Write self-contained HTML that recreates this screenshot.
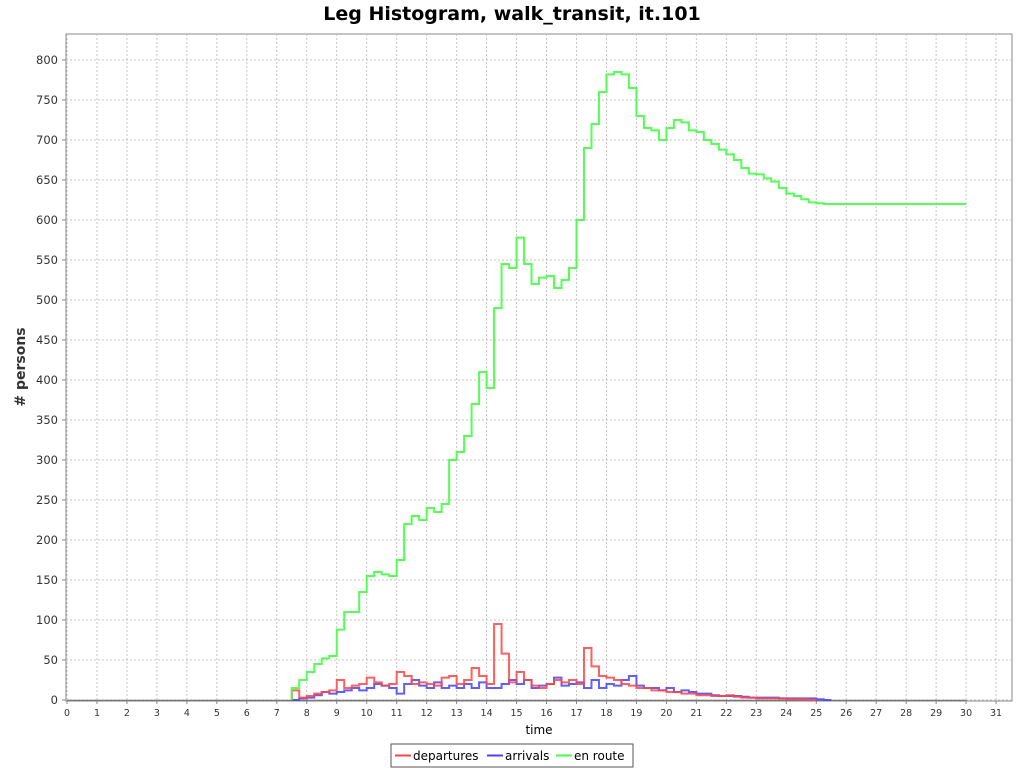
<!DOCTYPE html>
<html><head><meta charset="utf-8"><style>
html,body{margin:0;padding:0;background:#fff;}
svg{display:block;font-family:"DejaVu Sans","Liberation Sans",sans-serif;}
</style></head><body>
<svg id="chart" width="1024" height="768">
<text x="512" y="20" text-anchor="middle" font-size="19" font-weight="bold">Leg Histogram, walk_transit, it.101</text>
<rect x="66" y="34" width="946" height="667" fill="#fff" stroke="#888"/>
<g id="grid"></g>
<g id="xaxis"></g>
<g id="yaxis"></g>
<g id="series"></g>
<text x="539" y="734" text-anchor="middle" font-size="12">time</text>
<text transform="translate(25,367) rotate(-90)" text-anchor="middle" font-size="14" font-weight="bold" fill="#333"># persons</text>
<g>
<rect x="391" y="744" width="242" height="23" fill="#fff" stroke="#555"/>
<g><line x1="395" y1="755.5" x2="411" y2="755.5" stroke="#ff4444" stroke-width="2"/><text x="413" y="760" font-size="12">departures</text></g>
<g><line x1="487" y1="755.5" x2="503" y2="755.5" stroke="#4444ff" stroke-width="2"/><text x="505" y="760" font-size="12">arrivals</text></g>
<g><line x1="556" y1="755.5" x2="572" y2="755.5" stroke="#44ff44" stroke-width="2"/><text x="574" y="760" font-size="12">en route</text></g>
</g>
</svg>
<script>
const binStart = 7.5;
const binWidth = 0.25;
const enRoute = [15,25,35,45,52,55,88,110,110,135,155,160,157,155,175,220,230,225,240,235,245,300,310,330,370,410,390,490,545,540,578,545,520,528,530,515,525,540,600,690,720,760,782,785,782,765,730,715,712,700,715,725,722,712,710,700,695,688,682,675,665,658,657,652,648,640,633,630,626,622,621,620];
const departures = [12,3,5,8,10,12,25,15,18,20,28,22,18,20,35,30,20,22,20,18,28,30,20,25,40,30,20,95,58,22,35,25,18,15,20,25,22,25,20,65,42,30,28,25,20,18,15,15,12,12,10,10,8,8,6,6,5,5,6,4,3,3,2,2,2,2,1,1,1,0];
const arrivals = [0,2,3,6,10,8,10,12,15,12,15,20,18,15,8,20,25,18,15,22,15,18,15,20,15,22,15,15,20,25,20,25,15,18,20,28,18,20,22,15,25,15,20,18,25,30,18,15,15,12,15,10,12,10,8,8,6,5,5,5,4,3,3,3,3,2,2,2,2,2,1,0];
const xTicks = [0,1,2,3,4,5,6,7,8,9,10,11,12,13,14,15,16,17,18,19,20,21,22,23,24,25,26,27,28,29,30,31];
const yTicks = [0,50,100,150,200,250,300,350,400,450,500,550,600,650,700,750,800];
const endTime = 30;

const NS = "http://www.w3.org/2000/svg";
const xs = t => 67 + 29.97 * t;
const ys = v => 700 - 0.8 * v;
function mk(tag, attrs, parent){const e=document.createElementNS(NS,tag);for(const k in attrs)e.setAttribute(k,attrs[k]);parent.appendChild(e);return e;}
const grid=document.getElementById('grid'),xa=document.getElementById('xaxis'),ya=document.getElementById('yaxis'),se=document.getElementById('series');
xTicks.forEach(t=>{
  const l=mk('line',{x1:xs(t),x2:xs(t),y1:34,y2:701,stroke:'#c4c4c4','stroke-dasharray':'2,2'},grid);
  
  
  mk('line',{x1:xs(t),x2:xs(t),y1:701,y2:704,stroke:'#888'},xa);
  const tx=mk('text',{x:xs(t),y:716,'text-anchor':'middle','font-size':'9.5',fill:'#333'},xa);
  tx.textContent=t;
  
  
});
yTicks.forEach(v=>{
  const l=mk('line',{x1:66,x2:1012,y1:ys(v),y2:ys(v),stroke:'#c4c4c4','stroke-dasharray':'2,2'},grid);
  
  
  mk('line',{x1:62,x2:66,y1:ys(v),y2:ys(v),stroke:'#888'},ya);
  const tx=mk('text',{x:58,y:ys(v)+4,'text-anchor':'end','font-size':'11.5',fill:'#333'},ya);
  tx.textContent=v;
  
  
});
function stepPath(vals){
  let d='M'+xs(binStart)+','+ys(0);
  let last=0;
  vals.forEach((v,i)=>{const t=binStart+i*binWidth;d+=' L'+xs(t)+','+ys(v)+' L'+xs(t+binWidth)+','+ys(v);last=v;});
  if(last>0) d+=' L'+xs(endTime)+','+ys(last);
  return d;
}
const zl=mk('line',{x1:xs(0),x2:xs(endTime),y1:ys(0)+0.5,y2:ys(0)+0.5,stroke:'#777','stroke-width':'1.5'},se);


const p1=mk('path',{d:stepPath(arrivals),fill:'none',stroke:'#4444ff','stroke-opacity':'0.85','stroke-width':'2'},se);


const p2=mk('path',{d:stepPath(departures),fill:'none',stroke:'#ff4444','stroke-opacity':'0.85','stroke-width':'2'},se);


const p3=mk('path',{d:stepPath(enRoute),fill:'none',stroke:'#44ff44','stroke-opacity':'0.9','stroke-width':'2'},se);


</script>
</body></html>
